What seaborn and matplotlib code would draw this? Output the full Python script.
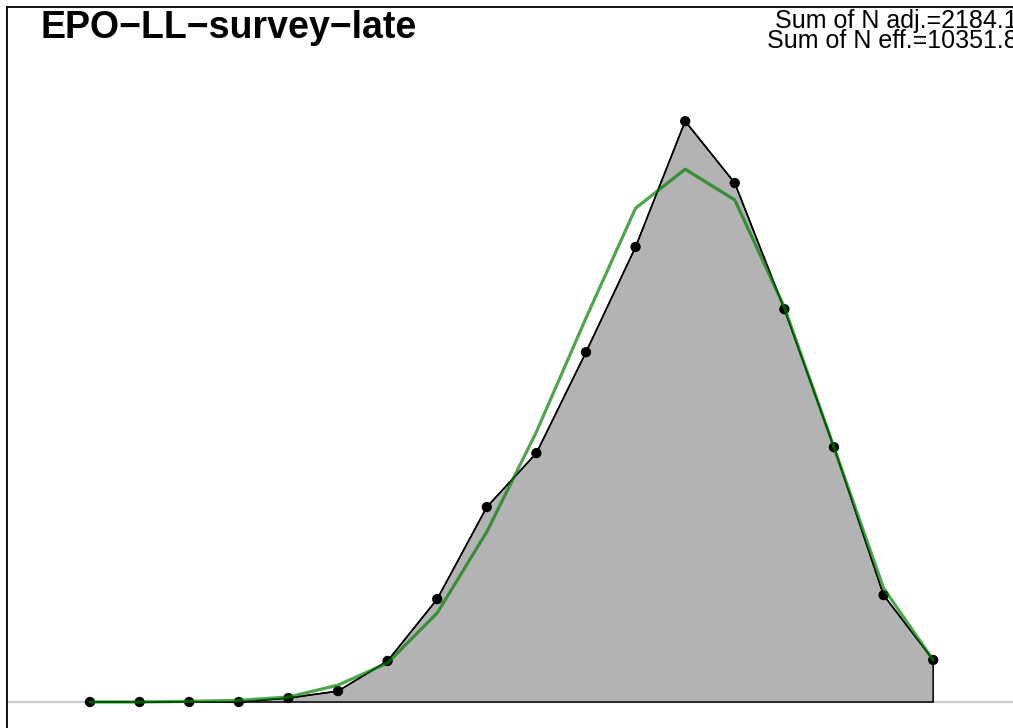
import matplotlib
matplotlib.use("Agg")
import matplotlib.pyplot as plt
import seaborn as sns
import pandas as pd

# length bins (x), observed and expected proportions
bins = [30, 35, 40, 45, 50, 55, 60, 65, 70, 75, 80, 85, 90, 95, 100, 105, 110, 115]
obs = [0, 0, 0, 0, 0.0012, 0.0033, 0.0124, 0.0311, 0.0589, 0.0752,
       0.1057, 0.1375, 0.1755, 0.1568, 0.1187, 0.0770, 0.0323, 0.0127]
exp = [0, 0, 0.0002, 0.0005, 0.0015, 0.0051, 0.0118, 0.0269, 0.0514, 0.0816,
       0.1160, 0.1492, 0.1610, 0.1517, 0.1193, 0.0770, 0.0344, 0.0127]
yticks = [0, 0.05, 0.10, 0.15, 0.20]

title = "EPO\u2212LL\u2212survey\u2212late"
n_adj = "Sum of N adj.=2184.1"
n_eff = "Sum of N eff.=10351.8"

df = pd.DataFrame({"len": bins, "obs": obs, "exp": exp})

sns.set_style("white")
plt.rcParams["font.family"] = ["Liberation Sans", "DejaVu Sans"]
plt.rcParams["text.color"] = "black"

W, H = 1013, 728
fig = plt.figure(figsize=(W / 100, H / 100), dpi=100)

# axes box: left edge at 7px, top at 7px, right/bottom run off the canvas
left_px, top_px, right_px, bot_px = 7, 7, 1040, 758
ax = fig.add_axes([left_px / W, 1 - bot_px / H,
                   (right_px - left_px) / W, (bot_px - top_px) / H])

ax.set_xlim(21.633, 125.77)
ax.set_ylim(-0.01692, 0.2100)

# zero line
ax.axhline(0, color="#cccccc", lw=1.6, zorder=1)

# observed polygon
xs = [bins[0]] + bins + [bins[-1]]
ys = [0] + obs + [0]
ax.fill(xs, ys, facecolor="#b3b3b3", edgecolor="black", lw=1.1, zorder=2)

sns.lineplot(data=df, x="len", y="obs", color="black", lw=1.1, ax=ax, zorder=3)
sns.scatterplot(data=df, x="len", y="obs", color="black", s=55, edgecolor="none",
                ax=ax, zorder=4)
sns.lineplot(data=df, x="len", y="exp", color=(0, 0.5, 0), alpha=0.7, lw=2.3,
             ax=ax, zorder=5)

ax.set_yticks(yticks)
ax.set_xticks([])
ax.tick_params(axis="y", direction="out", length=7, width=1.1, labelleft=False)
ax.set_xlabel("")
ax.set_ylabel("")
for s in ax.spines.values():
    s.set_color("black")
    s.set_linewidth(1.3)

fig.text(40 / W, 1 - 38 / H, title, fontsize=27, fontweight="bold",
         color="black", ha="left", va="baseline")
fig.text(1018 / W, 1 - 48 / H, n_adj + "\n" + n_eff, fontsize=18, color="black",
         ha="right", va="baseline", multialignment="right", linespacing=0.78)

fig.savefig("out.png", dpi=100)
